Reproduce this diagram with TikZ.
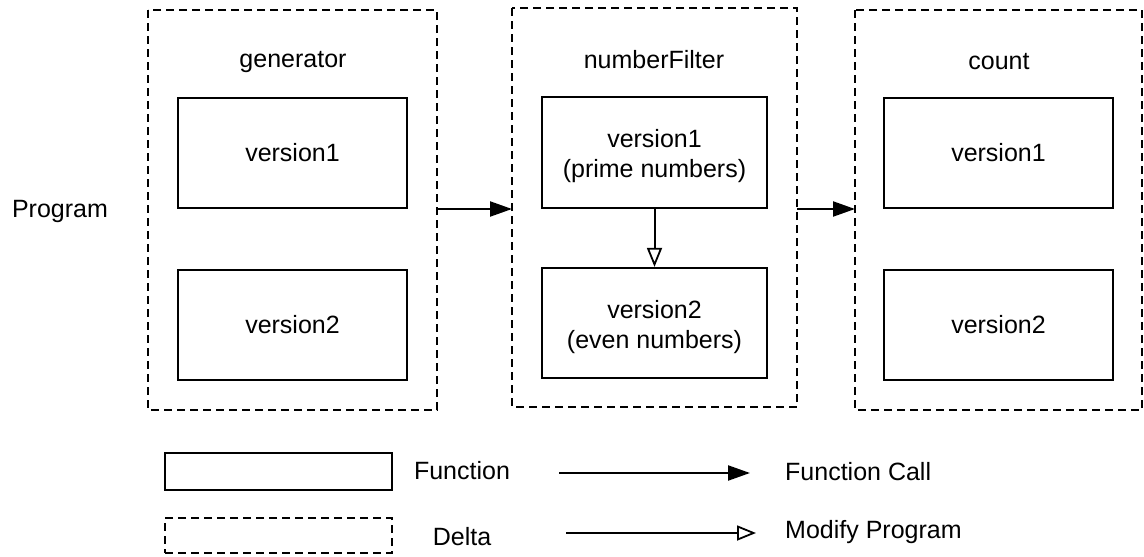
\documentclass[tikz,border=0pt]{standalone}
\usepackage{fontspec}
\setmainfont{Liberation Sans}
\usetikzlibrary{arrows.meta}
\begin{document}
\begin{tikzpicture}[x=1pt,y=-1pt,
  delta/.style={draw, line width=2.2pt, dash pattern=on 8pt off 5pt},
  func/.style={draw, line width=2.2pt},
  lbl/.style={font=\fontsize{25}{30}\selectfont, align=center},
  call/.style={line width=2.2pt, -{Triangle[length=22pt,width=15pt]}},
  modify/.style={line width=2pt, -{Triangle[open,length=19pt,width=15pt,line width=1.8pt]}}]
\useasboundingbox (0,0) rectangle (1144,557);

% delta boxes
\draw[delta] (148,10) rectangle (437,410);
\draw[delta] (512,8) rectangle (797,407);
\draw[delta] (855,10) rectangle (1142,410);
\coordinate (d1r) at (437,209);
\coordinate (d2l) at (512,209);
\coordinate (d2r) at (797,209);
\coordinate (d3l) at (855,209);

% titles
\node[lbl] (prog) at (60,211) {Program};
\node[lbl] (tgen) at (293,62) {generator};
\node[lbl] (tnf) at (654,60) {numberFilter};
\node[lbl] (tcnt) at (999,62) {count};

% functions
\node[func, lbl, minimum width=229pt, minimum height=110pt] (g1) at (292.5,153) {version1};
\node[func, lbl, minimum width=229pt, minimum height=110pt] (g2) at (292.5,325) {version2};
\node[func, minimum width=225pt, minimum height=111pt] (n1) at (654.5,152.5) {};
\node[func, minimum width=225pt, minimum height=110pt] (n2) at (654.5,323) {};
\node[lbl] (n1t) at ([yshift=-4pt]n1.center) {version1\\(prime numbers)};
\node[lbl] (n2t) at ([yshift=-4pt]n2.center) {version2\\(even numbers)};
\node[func, lbl, minimum width=229pt, minimum height=110pt] (c1) at (998.5,153) {version1};
\node[func, lbl, minimum width=229pt, minimum height=110pt] (c2) at (998.5,325) {version2};

% connectors
\draw[call] (d1r) -- (d2l);
\draw[call] (d2r) -- (d3l);
\draw[modify] (n1.south) -- (n2.north);

% legend
\node[func, minimum width=227pt, minimum height=37pt] (lf) at (278.5,471.5) {};
\node[delta, minimum width=227pt, minimum height=35pt] (ld) at (278.5,535.5) {};
\node[lbl] (tf) at (462,471) {Function};
\node[lbl] (td) at (462,537) {Delta};
\coordinate (a1s) at (559,473);
\coordinate (a1e) at (750,473);
\coordinate (a2s) at (566,533);
\coordinate (a2e) at (756,533);
\draw[call] (a1s) -- (a1e);
\draw[modify] (a2s) -- (a2e);
\node[lbl, anchor=west, inner sep=0pt] (tfc) at (785,472) {Function Call};
\node[lbl, anchor=west, inner sep=0pt] (tmp) at (785,532) {Modify Program};
\end{tikzpicture}
\end{document}
